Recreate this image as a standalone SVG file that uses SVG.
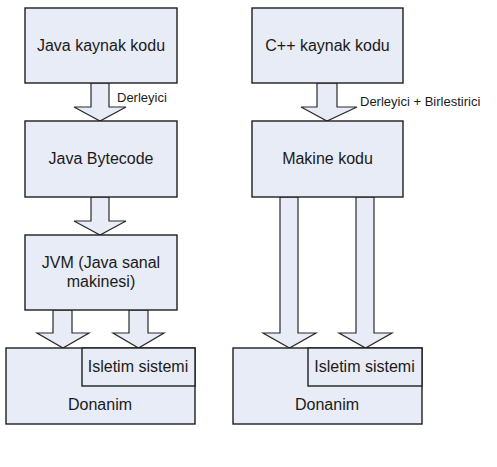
<svg xmlns="http://www.w3.org/2000/svg" width="497" height="467" viewBox="0 0 497 467">
<style>
.box{fill:#e8ecf6;stroke:#1e1e1e;stroke-width:1.4}
.arr{fill:#e8ecf6;stroke:#2a2a2a;stroke-width:1.2;stroke-linejoin:miter}
.t{font-family:"Liberation Sans",Arial,sans-serif;font-size:16px;fill:#1a1a1a;text-anchor:middle}
.l{font-family:"Liberation Sans",Arial,sans-serif;font-size:13px;fill:#1a1a1a}
</style>
<rect width="497" height="467" fill="#fff"/>
<g id="connectors">
<polygon class="arr" points="91,83 109,83 109,107 126,107 100,121 74,107 91,107"/>
<polygon class="arr" points="91,197 109,197 109,221 126,221 100,235 74,221 91,221"/>
<polygon class="arr" points="53,310 72,310 72,333 89,333 63,348 37,333 53,333"/>
<polygon class="arr" points="129,310 148,310 148,333 164,333 138.5,348 113,333 129,333"/>
<polygon class="arr" points="317,83 337,83 337,107 357,107 327,121 301,107 317,107"/>
<polygon class="arr" points="280,197 298,197 298,333 316,333 289.5,348 263,333 280,333"/>
<polygon class="arr" points="356,197 374,197 374,333 392,333 365.5,348 339,333 356,333"/>
<text class="l" x="117" y="102">Derleyici</text>
<text class="l" x="360" y="106">Derleyici + Birlestirici</text>
</g>
<g id="java-src"><rect class="box" x="25" y="8" width="152" height="75"/><text class="t" x="101" y="51">Java kaynak kodu</text></g>
<g id="bytecode"><rect class="box" x="25" y="121" width="152" height="76"/><text class="t" x="101" y="164">Java Bytecode</text></g>
<g id="jvm"><rect class="box" x="25" y="235" width="152" height="75"/><text class="t" x="101" y="268">JVM (Java sanal</text><text class="t" x="101" y="287">makinesi)</text></g>
<g id="donanim-left"><rect class="box" x="6" y="348" width="189" height="76"/><text class="t" x="100" y="410">Donanim</text></g>
<g id="os-left"><rect class="box" x="82" y="348" width="113" height="38"/><text class="t" x="138" y="372">Isletim sistemi</text></g>
<g id="cpp-src"><rect class="box" x="252" y="8" width="151" height="75"/><text class="t" x="327.5" y="51">C++ kaynak kodu</text></g>
<g id="makine"><rect class="box" x="252" y="121" width="151" height="76"/><text class="t" x="327.5" y="164">Makine kodu</text></g>
<g id="donanim-right"><rect class="box" x="233" y="348" width="189" height="76"/><text class="t" x="327" y="410">Donanim</text></g>
<g id="os-right"><rect class="box" x="308" y="348" width="114" height="38"/><text class="t" x="364.5" y="372">Isletim sistemi</text></g>
</svg>
